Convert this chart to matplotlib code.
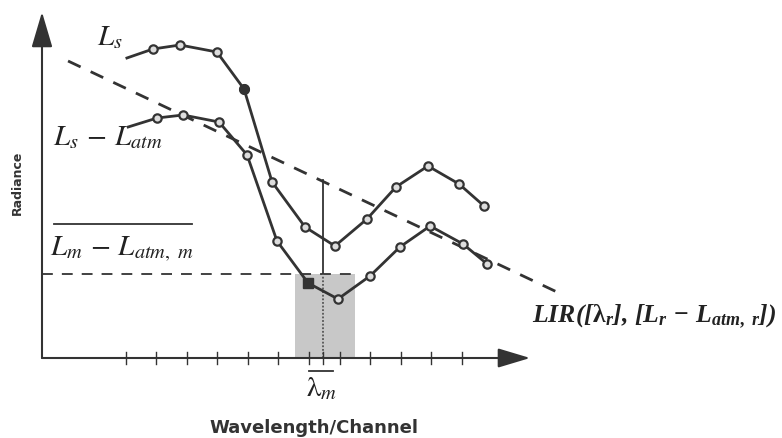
import matplotlib
matplotlib.use("Agg")
import matplotlib.pyplot as plt
from matplotlib.patches import Rectangle

plt.rcParams['mathtext.fontset'] = 'custom'
plt.rcParams['mathtext.it'] = 'Liberation Serif:italic:bold'
plt.rcParams['mathtext.rm'] = 'Liberation Serif:bold'
plt.rcParams['mathtext.bf'] = 'Liberation Serif:bold'

# ---- data (channel index vs. radiance, arbitrary units) ----
ls_x = [1.03, 1.885, 2.77, 3.98, 4.87, 5.79, 6.87, 7.85, 8.90, 9.85, 10.90, 11.92, 12.74]
ls_y = [30.0, 30.9, 31.3, 30.6, 26.9, 17.6, 13.1, 11.2, 13.9, 17.1, 19.2, 17.4, 15.2]
ls_filled = 4  # index of filled marker

lc_x = [1.07, 2.02, 2.87, 4.05, 4.97, 5.95, 6.97, 7.95, 9.0, 9.98, 10.97, 12.05, 12.84]
lc_y = [23.1, 24.0, 24.3, 23.6, 20.3, 11.7, 7.5, 5.9, 8.2, 11.1, 13.2, 11.4, 9.4]
lc_square = 6  # index of square marker

lir_x = [-0.90, 15.13]
lir_y = [29.7, 6.6]

tick_channels = list(range(1, 13))
lam_m = 7.46
band = (6.54, 8.51)
mean_rad = 8.4
lam_top = 17.8

# axis geometry (data units)
x_axis_start, x_axis_end = -1.754, 14.25
y_axis_top = 34.6

fig = plt.figure(figsize=(7.82, 4.38), dpi=100)
ax = fig.add_axes([0, 0, 1, 1])
ax.set_xlim(-3.131, 22.508)
ax.set_ylim(-8.0, 35.8)
ax.axis('off')

lc = '#333333'
tc = '#222222'

# shaded band
ax.add_patch(Rectangle((band[0], 0), band[1] - band[0], mean_rad,
                       facecolor='#c8c8c8', edgecolor='none', zorder=1))

# axes with arrows
ax.annotate('', xy=(x_axis_start, y_axis_top), xytext=(x_axis_start, 0),
            arrowprops=dict(arrowstyle='-|>,head_length=2.2,head_width=0.65',
                            color=lc, lw=1.5, shrinkA=0, shrinkB=0), zorder=3)
ax.annotate('', xy=(x_axis_end, 0), xytext=(x_axis_start, 0),
            arrowprops=dict(arrowstyle='-|>,head_length=2.0,head_width=0.6',
                            color=lc, lw=1.5, shrinkA=0, shrinkB=0), zorder=3)
for t in tick_channels:
    ax.plot([t, t], [-0.6, 0.6], color=lc, lw=1.0, zorder=3)
ax.plot([lam_m, lam_m], [-0.6, 0.6], color=lc, lw=1.0, zorder=3)

# horizontal dashed mean level
ax.plot([x_axis_start, band[1]], [mean_rad, mean_rad], color=lc, lw=1.3,
        dashes=(6, 5), zorder=2)

# LIR dashed line
ax.plot(lir_x, lir_y, color=lc, lw=2.0, dashes=(5, 4), zorder=2)

# vertical line at lambda_m
ax.plot([lam_m, lam_m], [mean_rad, lam_top], color=lc, lw=1.3, zorder=2)
ax.plot([lam_m, lam_m], [0, mean_rad], color='#555555', lw=1.3,
        linestyle=(0, (1, 1)), zorder=2)

# curves
ax.plot(ls_x, ls_y, color=lc, lw=2.0, zorder=4)
ax.plot(ls_x[1:], ls_y[1:], linestyle='none', marker='o', ms=6,
        mfc='#dddddd', mec=lc, mew=1.6, zorder=5)
ax.plot([ls_x[ls_filled]], [ls_y[ls_filled]], linestyle='none', marker='o',
        ms=7, mfc=lc, mec=lc, zorder=6)

ax.plot(lc_x, lc_y, color=lc, lw=2.0, zorder=4)
idx = [i for i in range(1, len(lc_x)) if i != lc_square]
ax.plot([lc_x[i] for i in idx], [lc_y[i] for i in idx], linestyle='none',
        marker='o', ms=6, mfc='#dddddd', mec=lc, mew=1.6, zorder=5)
ax.plot([lc_x[lc_square]], [lc_y[lc_square]], linestyle='none', marker='s',
        ms=7, mfc=lc, mec=lc, zorder=6)

# labels
ax.text(0.05, 31.3, r'$L_s$', fontsize=21, ha='left', va='baseline', color=tc,
        math_fontfamily='stix')
ax.text(-1.39, 21.3, r'$L_s\, -\, L_{atm}$', fontsize=21, ha='left', va='baseline',
        color=tc, math_fontfamily='stix')
ax.text(-1.49, 10.3, r'$L_m\, -\, L_{atm,\ m}$', fontsize=21, ha='left', va='baseline',
        color=tc, math_fontfamily='stix')
ax.plot([-1.36, 3.16], [13.4, 13.4], color=lc, lw=1.3)
ax.text(14.31, 3.5, r'LIR([$\mathrm{\lambda}_r$], [$L_r\, -\, L_{atm,\ r}$])', fontsize=18.5,
        family='Liberation Serif', style='italic', weight='bold',
        ha='left', va='baseline', color=tc, math_fontfamily='custom')
ax.plot([7.0, 7.79], [-1.3, -1.3], color=lc, lw=1.3)
ax.text(lam_m - 0.05, -3.8, r'$\mathrm{\lambda}_m$', fontsize=21, ha='center',
        va='baseline', color=tc, math_fontfamily='stix')

ax.text(7.16, -7.0, 'Wavelength/Channel', fontsize=13, weight='bold',
        ha='center', va='center', color='#333333')
ax.text(-2.57, 17.5, 'Radiance', fontsize=9, weight='bold', rotation=90,
        ha='center', va='center', color='#333333')

fig.savefig('out.png', dpi=100)
